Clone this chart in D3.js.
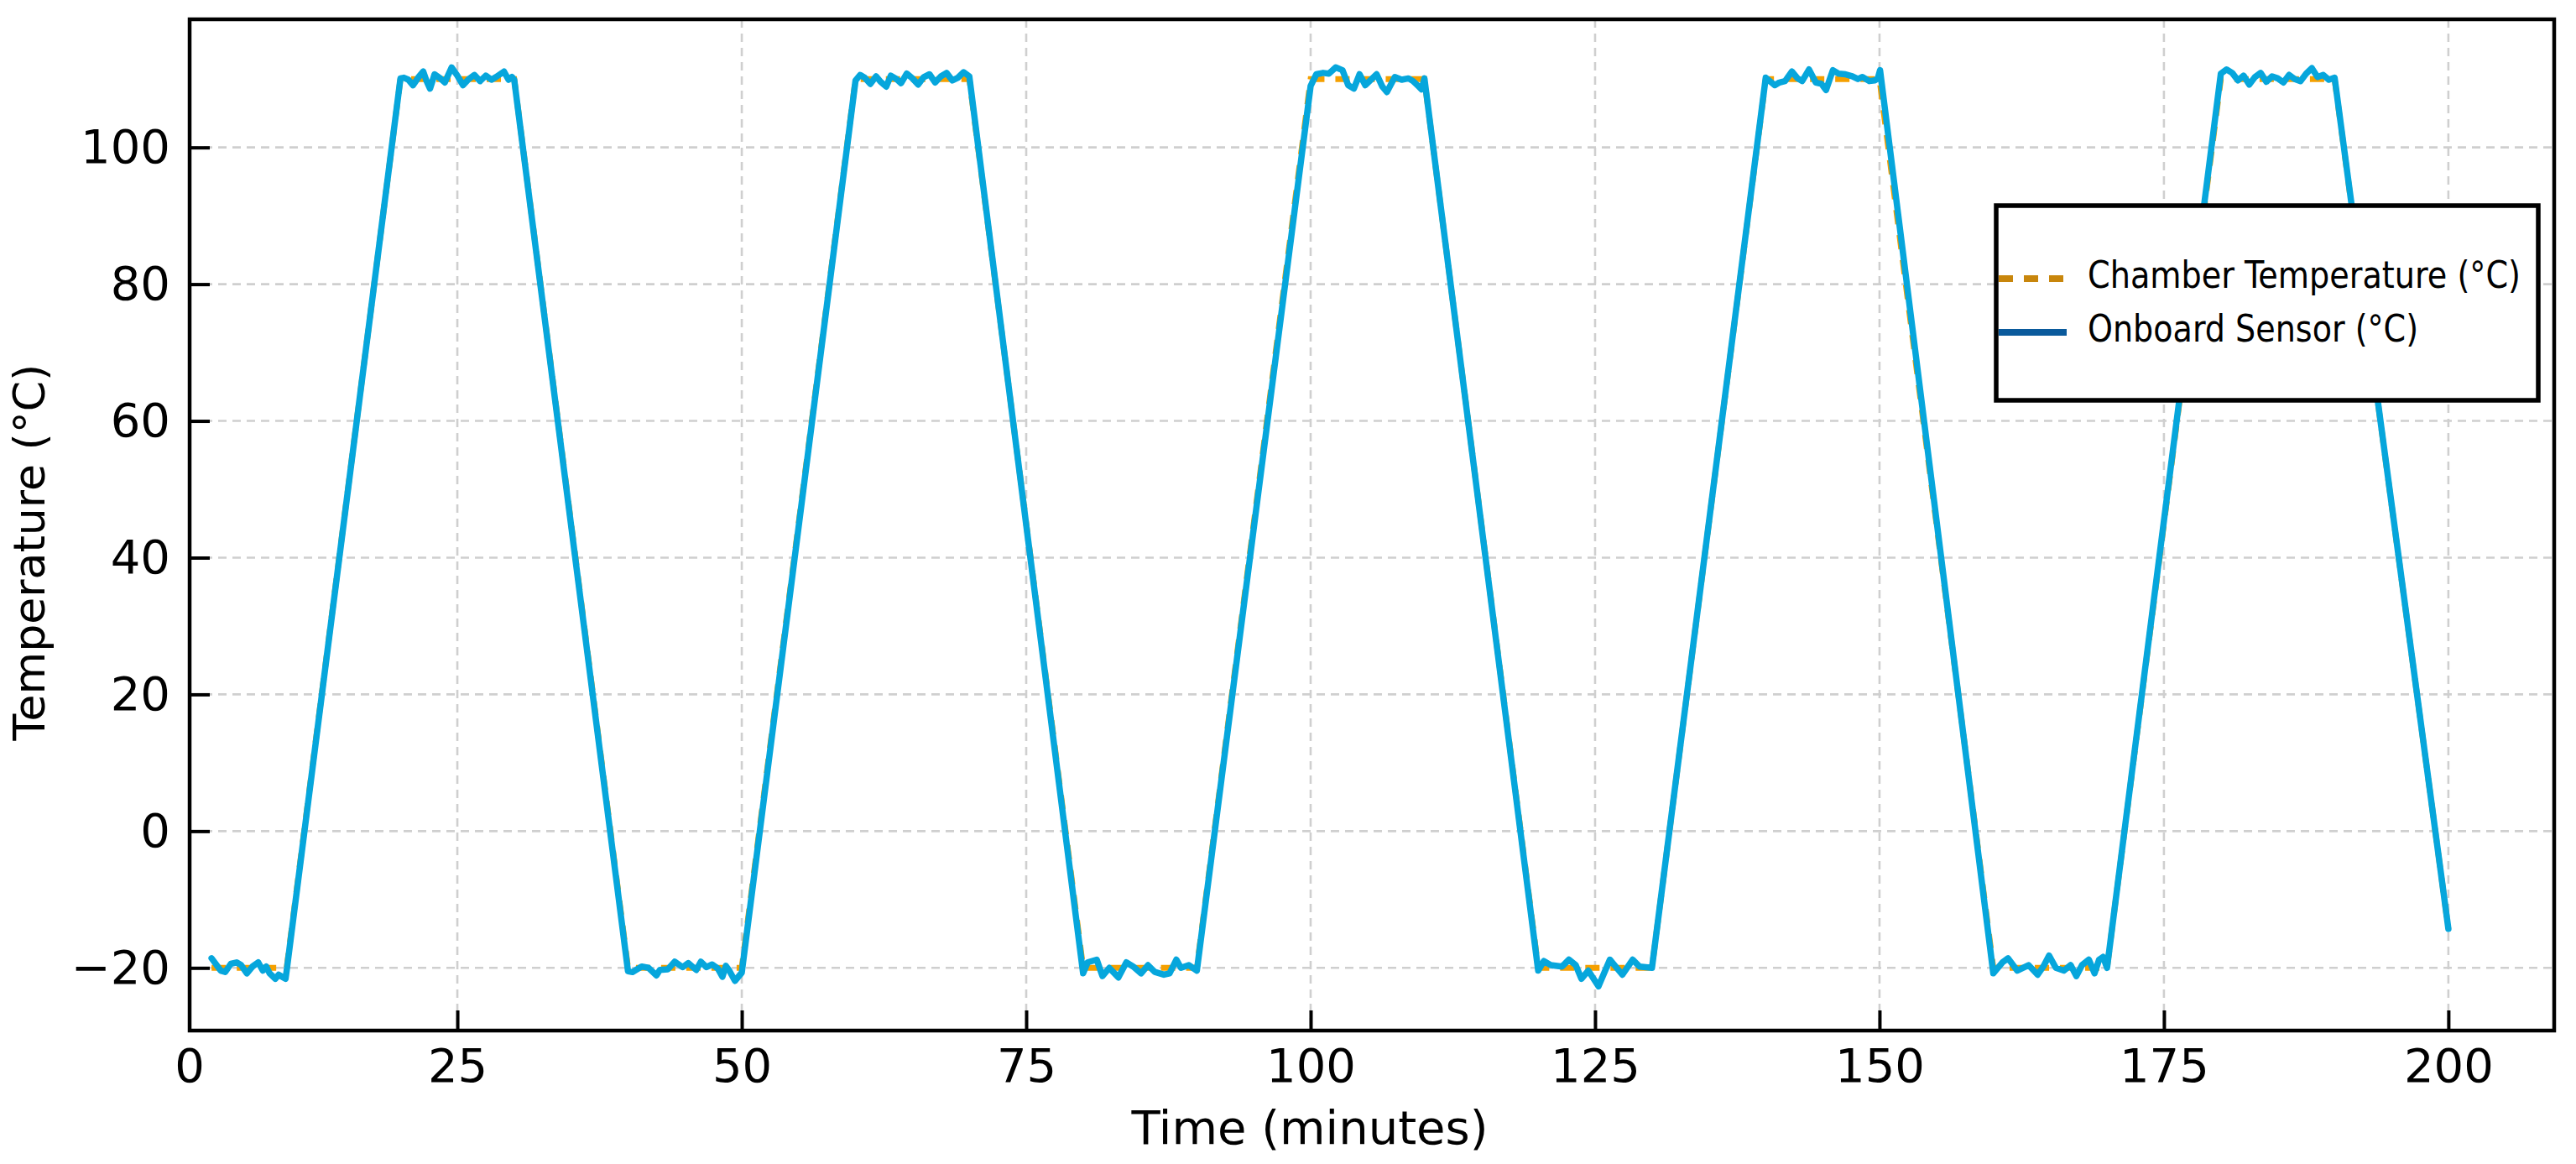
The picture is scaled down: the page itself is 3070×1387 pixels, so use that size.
<!DOCTYPE html>
<html>
<head>
<meta charset="utf-8">
<script src="https://cdn.jsdelivr.net/npm/d3@7"></script>
<style>
  html, body { margin: 0; padding: 0; background: #ffffff; }
  svg { display: block; }
  .tick text { font-family: "DejaVu Sans", sans-serif; }
</style>
</head>
<body>
<div id="chart"></div>
<script>
// ---------------- DATA ----------------
const xTicks = [0, 25, 50, 75, 100, 125, 150, 175, 200];
const yTicks = [-20, 0, 20, 40, 60, 80, 100];

const seriesNames = ["Chamber Temperature (°C)", "Onboard Sensor (°C)"];

// Chamber set-point profile (corner points of the trapezoid cycle)
const chamberTime = [3.4, 10, 20, 30, 40, 50, 60, 70, 80, 90, 100, 110, 120, 130, 140, 150, 160, 170, 180, 190, 200];
const chamberTemp = [-20, -20, 110, 110, -20, -20, 110, 110, -20, -20, 110, 110, -20, -20, 110, 110, -20, -20, 110, 110, -14.3];

// Onboard sensor readings
const sensorTime = [
  3.4, 4.2, 4.6, 5.1, 5.6, 6.0, 6.5, 7.0, 7.5, 7.9, 8.2, 8.5, 9.0, 9.3, 9.7, 9.9, 10.0,
  20.0, 20.3, 20.7, 21.1, 21.6, 22.0, 22.3, 22.6, 23.0, 23.5, 23.9, 24.5, 25.0, 25.5, 26.0, 26.5, 27.0, 27.5, 28.0, 28.4, 29.1, 29.5, 29.8, 30.0,
  40.0, 40.4, 41.2, 41.8, 42.5, 42.8, 43.5, 44.1, 44.8, 45.3, 46.0, 46.4, 46.9, 47.4, 47.9, 48.3, 48.6, 48.9, 49.4, 50.0,
  60.0, 60.4, 60.8, 61.3, 61.8, 62.2, 62.7, 63.1, 63.6, 64.0, 64.5, 65.0, 65.5, 66.0, 66.5, 67.0, 67.5, 68.0, 68.5, 69.0, 69.5, 70.0,
  80.0, 80.4, 81.2, 81.7, 82.3, 83.1, 83.8, 84.4, 85.1, 85.7, 86.3, 87.1, 87.6, 88.2, 88.6, 89.3, 90.0,
  100.0, 100.5, 101.1, 101.6, 102.2, 102.8, 103.3, 103.8, 104.3, 104.8, 105.8, 106.3, 106.7, 107.4, 108.0, 108.6, 109.0, 109.5, 109.75, 110.0,
  120.0, 120.5, 121.1, 122.1, 122.7, 123.3, 123.8, 124.4, 125.3, 126.3, 126.8, 127.4, 128.3, 128.9, 130.0,
  140.0, 140.8, 141.2, 141.7, 142.3, 142.8, 143.2, 143.8, 144.4, 144.9, 145.3, 145.9, 146.4, 147.0, 147.6, 148.1, 148.5, 149.1, 149.6, 149.85, 150.05,
  160.0, 160.8, 161.3, 162.1, 162.6, 163.1, 163.9, 164.4, 164.9, 165.5, 166.2, 166.8, 167.3, 167.8, 168.4, 168.9, 169.3, 169.65, 170.0,
  180.0, 180.5, 181.0, 181.5, 182.0, 182.5, 183.0, 183.5, 184.0, 184.5, 185.0, 185.5, 186.0, 186.5, 187.0, 187.5, 188.0, 188.5, 189.0, 189.5, 190.0,
  200.0
];
const sensorTemp = [
  -18.6, -20.4, -20.6, -19.4, -19.2, -19.6, -20.8, -19.8, -19.2, -20.4, -19.8, -20.8, -21.6, -21.0, -21.4, -21.6, -20.4,
  110.1, 110.2, 109.9, 109.1, 110.3, 111.1, 109.7, 108.6, 110.7, 110.1, 109.5, 111.7, 110.5, 109.1, 110.0, 110.6, 109.7, 110.5, 109.9, 110.3, 111.1, 109.9, 110.3, 109.9,
  -20.5, -20.6, -19.8, -20.0, -21.1, -20.3, -20.2, -19.1, -19.9, -19.3, -20.3, -19.1, -19.9, -19.5, -20.1, -21.3, -19.7, -20.4, -21.9, -20.7,
  109.8, 110.6, 110.2, 109.3, 110.4, 109.6, 108.9, 110.5, 110.0, 109.4, 110.8, 110.1, 109.2, 110.3, 110.7, 109.5, 110.4, 110.9, 109.8, 110.2, 111.0, 110.4,
  -20.8, -19.2, -18.8, -21.2, -20.0, -21.4, -19.2, -19.8, -20.8, -19.6, -20.6, -21.0, -20.8, -18.8, -20.0, -19.6, -20.4,
  109.0, 110.7, 110.9, 110.8, 111.7, 111.3, 109.1, 108.6, 110.7, 109.1, 110.7, 108.9, 108.1, 110.3, 109.9, 110.1, 109.7, 108.9, 108.5, 110.1,
  -20.4, -19.0, -19.6, -19.8, -18.8, -19.6, -21.6, -20.4, -22.7, -18.8, -19.8, -21.0, -18.8, -19.8, -20.0,
  110.2, 109.1, 109.5, 109.7, 111.1, 110.1, 109.7, 111.4, 109.5, 109.3, 108.4, 111.3, 110.8, 110.7, 110.4, 110.0, 110.3, 109.7, 109.8, 110.1, 111.3,
  -20.8, -19.2, -18.6, -20.4, -20.0, -19.6, -21.0, -19.8, -18.2, -20.0, -20.4, -19.6, -21.2, -19.6, -18.8, -20.8, -18.8, -18.4, -20.0,
  110.8, 111.4, 110.9, 109.8, 110.5, 109.2, 110.3, 110.9, 109.6, 110.4, 110.1, 109.5, 110.6, 110.0, 109.7, 110.8, 111.6, 110.3, 110.6, 109.9, 110.2,
  -14.3
];

const xDomain = [1.47, 209.3];
const yDomain = [-29.17, 118.74];

// ---------------- LAYOUT ----------------
const W = 3070, H = 1387;
const plot = { left: 226, right: 3044, top: 23, bottom: 1228 };

const svg = d3.select("#chart").append("svg")
  .attr("width", W).attr("height", H)
  .style("background", "#ffffff");

const x = d3.scaleLinear().domain(xDomain).range([plot.left, plot.right]);
const y = d3.scaleLinear().domain(yDomain).range([plot.bottom, plot.top]);

svg.append("defs").append("clipPath").attr("id", "clip")
  .append("rect")
  .attr("x", plot.left).attr("y", plot.top)
  .attr("width", plot.right - plot.left).attr("height", plot.bottom - plot.top);

// grid
const grid = svg.append("g").attr("clip-path", "url(#clip)");
grid.selectAll("line.gx")
  .data(xTicks.filter(d => d > xDomain[0] && d < xDomain[1]))
  .join("line").attr("class", "gx")
  .attr("x1", d => x(d)).attr("x2", d => x(d))
  .attr("y1", plot.top).attr("y2", plot.bottom)
  .attr("stroke", "#cfcfcf").attr("stroke-width", 2.6)
  .attr("stroke-dasharray", "10,7");
grid.selectAll("line.gy")
  .data(yTicks)
  .join("line").attr("class", "gy")
  .attr("x1", plot.left).attr("x2", plot.right)
  .attr("y1", d => y(d)).attr("y2", d => y(d))
  .attr("stroke", "#cfcfcf").attr("stroke-width", 2.6)
  .attr("stroke-dasharray", "10,7");

// lines
const chamberData = chamberTime.map((t, i) => [t, chamberTemp[i]]);
const sensorData = sensorTime.map((t, i) => [t, sensorTemp[i]]);
const line = d3.line().x(d => x(d[0])).y(d => y(d[1]));

const lines = svg.append("g").attr("clip-path", "url(#clip)");
lines.append("path").datum(chamberData)
  .attr("d", line).attr("fill", "none")
  .attr("stroke", "#f5a000").attr("stroke-width", 7)
  .attr("stroke-dasharray", "17,13");
lines.append("path").datum(sensorData)
  .attr("d", line).attr("fill", "none")
  .attr("stroke", "#06a6dc").attr("stroke-width", 7.5)
  .attr("stroke-linejoin", "round").attr("stroke-linecap", "round");

// axes
const xAxis = d3.axisBottom(x).tickValues(xTicks).tickSize(-24).tickPadding(21)
  .tickFormat(d3.format("d"));
const gx = svg.append("g").attr("transform", `translate(0,${plot.bottom})`).call(xAxis);
gx.select(".domain").remove();
gx.selectAll(".tick line").attr("stroke", "#000").attr("stroke-width", 4);
gx.selectAll(".tick text").attr("font-size", 56).attr("fill", "#000");
gx.selectAll(".tick").filter(d => d < xDomain[0])
  .attr("transform", `translate(${plot.left},0)`)
  .select("line").remove();

const yAxis = d3.axisLeft(y).tickValues(yTicks).tickSize(-24).tickPadding(23)
  .tickFormat(d => d < 0 ? "\u2212" + Math.abs(d) : String(d));
const gy = svg.append("g").attr("transform", `translate(${plot.left},0)`).call(yAxis);
gy.select(".domain").remove();
gy.selectAll(".tick line").attr("stroke", "#000").attr("stroke-width", 4);
gy.selectAll(".tick text").attr("font-size", 56).attr("fill", "#000");

// spines
svg.append("rect")
  .attr("x", plot.left).attr("y", plot.top)
  .attr("width", plot.right - plot.left).attr("height", plot.bottom - plot.top)
  .attr("fill", "none").attr("stroke", "#000").attr("stroke-width", 4.5);

// axis labels
svg.append("text")
  .attr("x", 1561).attr("y", 1363)
  .attr("text-anchor", "middle")
  .attr("font-family", "DejaVu Sans, sans-serif")
  .attr("font-size", 56).attr("fill", "#000")
  .text("Time (minutes)");

svg.append("text")
  .attr("transform", `translate(53,658) rotate(-90)`)
  .attr("text-anchor", "middle")
  .attr("font-family", "DejaVu Sans, sans-serif")
  .attr("font-size", 52).attr("fill", "#000")
  .text("Temperature (°C)");

// legend
const legend = svg.append("g");
legend.append("rect")
  .attr("x", 2379).attr("y", 245).attr("width", 646).attr("height", 232)
  .attr("fill", "#ffffff").attr("stroke", "#000").attr("stroke-width", 5.5);
const legendItems = [
  { name: seriesNames[0], color: "#c8860c", dash: "17,13", len: 516 },
  { name: seriesNames[1], color: "#0a5a9c", dash: null, len: 394 }
];
legendItems.forEach((it, i) => {
  const yy = 332 + i * 64;
  legend.append("line")
    .attr("x1", 2382).attr("x2", 2463).attr("y1", yy).attr("y2", yy)
    .attr("stroke", it.color).attr("stroke-width", 8)
    .attr("stroke-dasharray", it.dash);
  legend.append("text")
    .attr("x", 2488).attr("y", yy + 11)
    .attr("font-family", "DejaVu Sans Condensed, DejaVu Sans, sans-serif")
    .attr("font-size", 45).attr("fill", "#000")
    .attr("textLength", it.len).attr("lengthAdjust", "spacingAndGlyphs")
    .text(it.name);
});
</script>
</body>
</html>
